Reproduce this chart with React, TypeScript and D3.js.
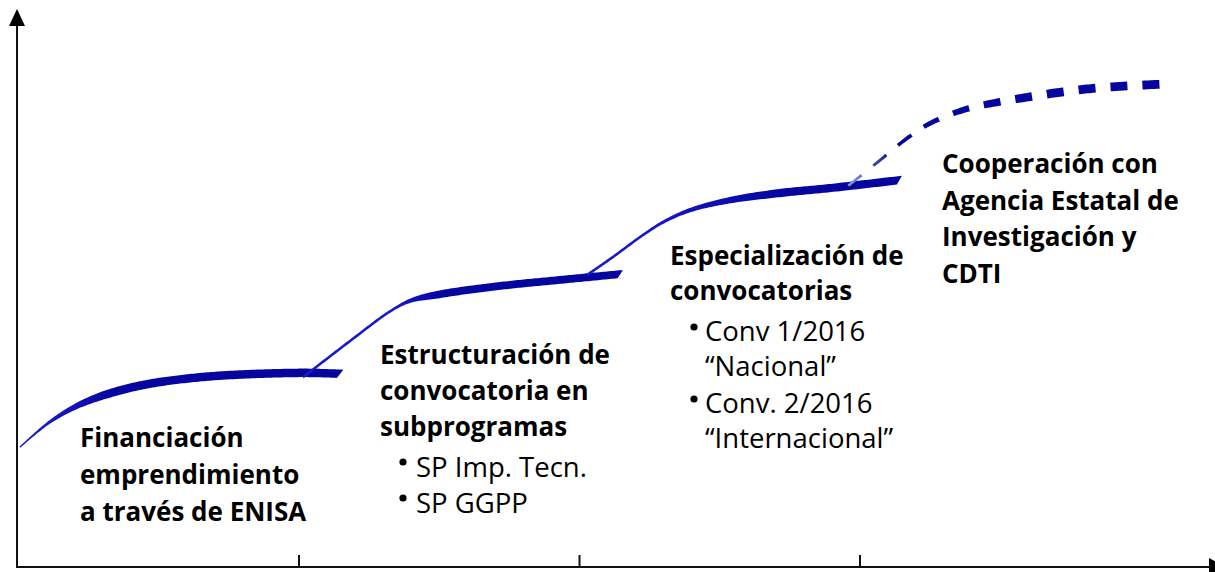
import * as d3 from "d3";
import { useEffect, useRef } from "react";

// fases en el eje x (0..4), nivel en el eje y (0..100)
const tickPhases = [1, 2, 3];

const phase1: [number, number][] = [
  [0.007, 21.8], [0.114, 26.4], [0.232, 29.8], [0.41, 32.7],
  [0.649, 34.5], [1.006, 35.3], [1.159, 35.1],
];
const phase2: [number, number][] = [
  [1.016, 34.5], [1.184, 41.1], [1.327, 46.5], [1.398, 48.4],
  [1.505, 49.6], [1.719, 51.1], [1.933, 52.2], [2.158, 53.3],
];
const phase3: [number, number][] = [
  [2.029, 53.1], [2.122, 56.4], [2.218, 60.0], [2.3, 62.7], [2.397, 64.9],
  [2.539, 66.7], [2.718, 68.0], [2.896, 68.9], [3.153, 70.4],
];
const phase4: [number, number][] = [
  [2.96, 69.3], [3.074, 74.0], [3.171, 78.0], [3.253, 80.7], [3.37, 83.1],
  [3.492, 84.5], [3.609, 85.5], [3.727, 86.4], [3.848, 87.1], [3.966, 87.5], [4.08, 87.8],
];

const label1 = ["Financiación", "emprendimiento", "a través de ENISA"];
const label2 = ["Estructuración de", "convocatoria en", "subprogramas"];
const bullets2 = ["SP Imp. Tecn.", "SP GGPP"];
const label3 = ["Especialización de", "convocatorias"];
const bullets3 = [["Conv 1/2016", "“Nacional”"], ["Conv. 2/2016", "“Internacional”"]];
const label4 = ["Cooperación con", "Agencia Estatal de", "Investigación y", "CDTI"];

const W = 1215;
const H = 572;
const FONT = "'Open Sans', Lato, sans-serif";

const App = () => {
  const svgRef = useRef<SVGSVGElement>(null);

  useEffect(() => {
    document.body.style.margin = "0";
    const svg = d3.select(svgRef.current);
    svg.selectAll("*").remove();

    const x = d3.scaleLinear().domain([0, 4]).range([18, 1140]);
    const y = d3.scaleLinear().domain([0, 100]).range([567, 17]);

    const defs = svg.append("defs");

    // axes
    svg.append("line").attr("x1", 17).attr("x2", 17).attr("y1", 567).attr("y2", 24)
      .attr("stroke", "#111").attr("stroke-width", 2);
    svg.append("polygon").attr("points", "17,9 9,26 25,26").attr("fill", "#000");
    svg.append("line").attr("x1", 16).attr("x2", 1212).attr("y1", 567).attr("y2", 567)
      .attr("stroke", "#111").attr("stroke-width", 2);
    svg.append("polygon").attr("points", "1209,558 1209,576 1226,567").attr("fill", "#000");

    const ax = svg.append("g").attr("transform", "translate(0,567)")
      .call(d3.axisTop(x).tickValues(tickPhases).tickSize(12).tickSizeOuter(0).tickFormat(() => ""));
    ax.select(".domain").remove();
    ax.selectAll("line").attr("stroke", "#111").attr("stroke-width", 2);

    const strokes = [
      { id: "f1", pts: phase1, thin: 1.5, thick: 8.5, from: 0.0, to: 0.36, dashed: false, c0: "#2020d0" },
      { id: "f2", pts: phase2, thin: 2.6, thick: 7.8, from: 1.33, to: 1.52, dashed: false, c0: "#1818cc" },
      { id: "f3", pts: phase3, thin: 2.6, thick: 8.2, from: 2.2, to: 2.75, dashed: false, c0: "#1818cc" },
      { id: "f4", pts: phase4, thin: 2.6, thick: 8.8, from: 2.96, to: 3.7, dashed: true, c0: "#8c9ad8" },
    ];

    const line = d3.line<[number, number]>()
      .x((d) => x(d[0])).y((d) => y(d[1]))
      .curve(d3.curveCatmullRom.alpha(0.5));

    strokes.forEach((s) => {
      const center = line(s.pts) as string;
      const tmp = svg.append("path").attr("d", center).attr("fill", "none");
      const node = tmp.node() as SVGPathElement;
      const L = node.getTotalLength();
      const n = Math.max(2, Math.ceil(L / 2));
      const xa = x(s.from);
      const xb = x(s.to);
      const widthAt = (px: number) => {
        const t = Math.max(0, Math.min(1, (px - xa) / (xb - xa)));
        const k = t * t * (3 - 2 * t);
        return s.thin + (s.thick - s.thin) * k;
      };
      const up: [number, number][] = [];
      const lo: [number, number][] = [];
      let tx = 1, ty = 0;
      for (let i = 0; i <= n; i++) {
        const d = (L * i) / n;
        const p = node.getPointAtLength(d);
        const a = node.getPointAtLength(Math.max(0, d - 0.8));
        const b = node.getPointAtLength(Math.min(L, d + 0.8));
        const len = Math.hypot(b.x - a.x, b.y - a.y) || 1;
        tx = (b.x - a.x) / len;
        ty = (b.y - a.y) / len;
        const nx = -ty, ny = tx;
        const w = widthAt(p.x) / 2;
        up.push([p.x - nx * w, p.y - ny * w]);
        lo.push([p.x + nx * w, p.y + ny * w]);
      }
      if (!s.dashed) {
        const last = lo[lo.length - 1];
        lo[lo.length - 1] = [last[0] - tx * 6, last[1] - ty * 6];
      }
      tmp.remove();
      const ribbon = "M" + up.map((p) => p.join(",")).join("L") + "L" +
        lo.reverse().map((p) => p.join(",")).join("L") + "Z";

      const grad = defs.append("linearGradient").attr("id", "g-" + s.id)
        .attr("gradientUnits", "userSpaceOnUse")
        .attr("x1", s.dashed ? x(s.from) : xa).attr("x2", s.dashed ? x(s.from) + 45 : xb)
        .attr("y1", 0).attr("y2", 0);
      grad.append("stop").attr("offset", 0).attr("stop-color", s.c0);
      grad.append("stop").attr("offset", 1).attr("stop-color", "#06069e");

      const shape = svg.append("path").attr("d", ribbon).attr("fill", `url(#g-${s.id})`);
      if (s.dashed) {
        const mask = defs.append("mask").attr("id", "m-" + s.id)
          .attr("maskUnits", "userSpaceOnUse")
          .attr("x", 0).attr("y", 0).attr("width", W).attr("height", H);
        mask.append("path").attr("d", center).attr("fill", "none")
          .attr("stroke", "#fff").attr("stroke-width", 30)
          .attr("stroke-dasharray", "17 15").attr("stroke-linecap", "butt");
        shape.attr("mask", `url(#m-${s.id})`);
      }
    });

    // labels
    const text = (str: string, tx0: number, ty0: number, bold: boolean) =>
      svg.append("text").attr("x", tx0).attr("y", ty0).text(str)
        .attr("font-family", FONT).attr("font-size", bold ? 26 : 27.5)
        .attr("font-weight", bold ? 700 : 400).attr("fill", "#000");
    const bullet = (cx: number, cy: number) =>
      svg.append("circle").attr("cx", cx).attr("cy", cy).attr("r", 3.6).attr("fill", "#000");

    label1.forEach((t, i) => text(t, 80, 447 + i * 37, true));
    label2.forEach((t, i) => text(t, 380, 364 + i * 36, true));
    bullets2.forEach((t, i) => {
      bullet(403, 462 + i * 36);
      text(t, 416, 477 + i * 36, false);
    });
    label3.forEach((t, i) => text(t, 670, 265 + i * 35, true));
    bullets3.forEach((pair, i) => {
      bullet(694, 327 + i * 72);
      text(pair[0], 705, 341 + i * 72, false);
      text(pair[1], 705, 376 + i * 72, false);
    });
    label4.forEach((t, i) => text(t, 942, 173 + i * 36.5, true));
  }, []);

  return <svg ref={svgRef} width={W} height={H} style={{ display: "block", background: "#fff" }} />;
};

export default App;
